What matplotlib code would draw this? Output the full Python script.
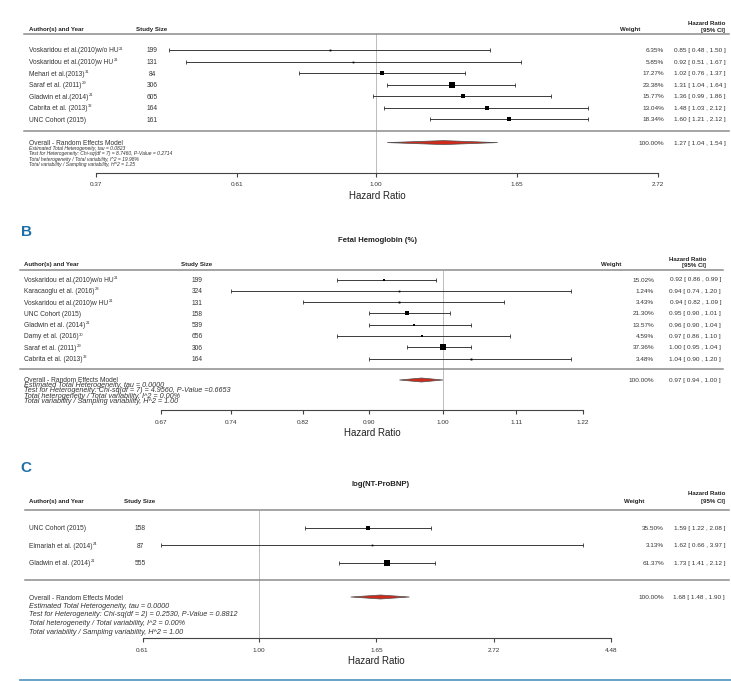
import numpy as np
import matplotlib
matplotlib.use("Agg")
import matplotlib.pyplot as plt
from matplotlib.transforms import blended_transform_factory
from matplotlib.patches import Polygon
from matplotlib.lines import Line2D

plt.rcParams['font.family'] = ['Liberation Sans', 'DejaVu Sans']

W, H = 731, 681

# ---- panel A ----
a_authors = ["Voskaridou et al.(2010)w/o HU", "Voskaridou et al.(2010)w HU", "Mehari et al.(2013)",
             "Saraf et al. (2011)", "Gladwin et al.(2014)", "Cabrita et al. (2013)", "UNC Cohort (2015)"]
a_refs = ["21", "21", "31", "29", "21", "32", ""]
a_size = [199, 131, 84, 306, 605, 164, 161]
a_hr = [0.85, 0.92, 1.02, 1.31, 1.36, 1.48, 1.60]
a_lo = [0.48, 0.51, 0.76, 1.04, 0.99, 1.03, 1.21]
a_hi = [1.50, 1.67, 1.37, 1.64, 1.86, 2.12, 2.12]
a_weight = [6.35, 5.85, 17.27, 23.38, 15.77, 13.04, 18.34]
a_overall = [1.27, 1.04, 1.54]
a_stats = ["Estimated Total Heterogeneity, tau = 0.0823",
           "Test for Heterogeneity: Chi-sq(df = 7) = 8.7460, P-Value = 0.2714",
           "Total heterogeneity / Total variability, I^2 = 19.98%",
           "Total variability / Sampling variability, H^2 = 1.25"]
a_ticks = [0.37, 0.61, 1.00, 1.65, 2.72]

# ---- panel B ----
b_title = "Fetal Hemoglobin (%)"
b_authors = ["Voskaridou et al.(2010)w/o HU", "Karacaoglu et al. (2016)", "Voskaridou et al.(2010)w HU",
             "UNC Cohort (2015)", "Gladwin et al. (2014)", "Damy et al. (2016)", "Saraf et al. (2011)",
             "Cabrita et al. (2013)"]
b_refs = ["21", "28", "21", "", "21", "30", "29", "32"]
b_size = [199, 324, 131, 158, 539, 656, 306, 164]
b_hr = [0.92, 0.94, 0.94, 0.95, 0.96, 0.97, 1.00, 1.04]
b_lo = [0.86, 0.74, 0.82, 0.90, 0.90, 0.86, 0.95, 0.90]
b_hi = [0.99, 1.20, 1.09, 1.01, 1.04, 1.10, 1.04, 1.20]
b_weight = [15.02, 1.24, 3.43, 21.30, 13.57, 4.59, 37.36, 3.48]
b_overall = [0.97, 0.94, 1.00]
b_stats = ["Estimated Total Heterogeneity, tau = 0.0000",
           "Test for Heterogeneity: Chi-sq(df = 7) = 4.9560, P-Value =0.6653",
           "Total heterogeneity / Total variability, I^2 = 0.00%",
           "Total variability / Sampling variability, H^2 = 1.00"]
b_ticks = [0.67, 0.74, 0.82, 0.90, 1.00, 1.11, 1.22]

# ---- panel C ----
c_title = "log(NT-ProBNP)"
c_authors = ["UNC Cohort (2015)", "Elmariah et al. (2014)", "Gladwin et al. (2014)"]
c_refs = ["", "24", "21"]
c_size = [158, 87, 555]
c_hr = [1.59, 1.62, 1.73]
c_lo = [1.22, 0.66, 1.41]
c_hi = [2.08, 3.97, 2.12]
c_weight = [35.50, 3.13, 61.37]
c_overall = [1.68, 1.48, 1.90]
c_stats = ["Estimated Total Heterogeneity, tau = 0.0000",
           "Test for Heterogeneity: Chi-sq(df = 2) = 0.2530, P-Value = 0.8812",
           "Total heterogeneity / Total variability, I^2 = 0.00%",
           "Total variability / Sampling variability, H^2 = 1.00"]
c_ticks = [0.61, 1.00, 1.65, 2.72, 4.48]

# layout in pixels of the 731x681 picture
LAY_A = dict(x0=96, x1=658, axis_y=172.5, top_y=33.5, row0=50, drow=11.55, overall_y=142.6,
             sep_y=130.5, line_x=(24, 729), head_y=29, hr_head_y=(23, 30), hr_head_x=725,
             author_x=29, size_x=152, weight_head_x=630, weight_x=664, hr_x=726,
             stats_y=[148, 153.3, 158.6, 163.9], stats_fs=3.6, label_y=195)
LAY_B = dict(x0=161, x1=583, axis_y=410, top_y=270, row0=279.5, drow=11.3, overall_y=380,
             sep_y=369, line_x=(20, 723), head_y=264, hr_head_y=(259, 265), hr_head_x=706,
             author_x=24, size_x=197, weight_head_x=611, weight_x=654, hr_x=721,
             stats_y=[384.8, 390, 395.2, 400.2], stats_fs=5.2, label_y=432,
             title=(377, 239), letter=("B", 26, 230))
LAY_C = dict(x0=142.5, x1=611, axis_y=638, top_y=510, row0=528, drow=17.4, overall_y=597,
             sep_y=580, line_x=(25, 729), head_y=501.5, hr_head_y=(493, 501.5), hr_head_x=725,
             author_x=29, size_x=140, weight_head_x=634, weight_x=664, hr_x=725,
             stats_y=[605.5, 614, 622.5, 631], stats_fs=5.2, label_y=660,
             title=(381, 483), letter=("C", 26, 467))

fig = plt.figure(figsize=(W / 100, H / 100), dpi=100)
renderer = fig.canvas.get_renderer()


def fx(px):
    return px / W


def fy(py):
    return 1 - py / H


def hline(y, x0, x1, color='#8c8c8c', lw=1.1):
    fig.add_artist(Line2D([fx(x0), fx(x1)], [fy(y), fy(y)], color=color, lw=lw))


def draw_panel(authors, refs, sizes, hr, lo, hi, weights, overall, stats, ticks, L, title=None):
    ax = fig.add_axes([fx(L['x0']), fy(L['axis_y']), fx(L['x1']) - fx(L['x0']),
                       (L['axis_y'] - L['top_y']) / H])
    ax.set_xscale('log')
    ax.set_xlim(ticks[0], ticks[-1])
    ax.set_ylim((L['axis_y'] - L['row0']) / L['drow'], (L['top_y'] - L['row0']) / L['drow'])
    for s in ['top', 'left', 'right']:
        ax.spines[s].set_visible(False)
    ax.spines['bottom'].set_color('#444444')
    ax.spines['bottom'].set_linewidth(0.8)
    ax.set_yticks([])
    ax.set_xticks(ticks)
    ax.set_xticklabels([f"{t:.2f}" for t in ticks])
    ax.xaxis.set_minor_locator(matplotlib.ticker.NullLocator())
    ax.tick_params(axis='x', length=3, width=0.8, color='#444444', labelsize=4.6,
                   labelcolor='#333333', pad=4)
    ax.patch.set_alpha(0)

    ax.axvline(1.0, color='#666666', lw=0.6, ls=(0, (1.2, 1.2)))

    rows = np.arange(len(hr))
    w = np.array(weights)
    side = 3.4 * (0.5 + (w - w.min()) / (w.max() - w.min()))
    for y, est, l, h, s in zip(rows, hr, lo, hi, side):
        ax.plot([l, h], [y, y], color='#3a3a3a', lw=0.7)
        ax.plot([l, h], [y, y], ls='none', marker='|', ms=2.4, mew=0.6, color='#3a3a3a')
        ax.plot([est], [y], ls='none', marker='s', ms=s * 0.72, color='black', mew=0)

    oy = (L['overall_y'] - L['row0']) / L['drow']
    dh = 2.0 / L['drow']
    o_est, o_lo, o_hi = overall
    ax.add_patch(Polygon([(o_lo, oy), (o_est, oy - dh), (o_hi, oy), (o_est, oy + dh)],
                         closed=True, facecolor='#cf2b1c', edgecolor='#4d4d4d', lw=0.5))

    tr = blended_transform_factory(fig.transFigure, ax.transData)
    for y, name, ref, n, wt, e, l, h in zip(rows, authors, refs, sizes, weights, hr, lo, hi):
        t = ax.text(fx(L['author_x']), y, name, transform=tr, fontsize=4.8, color='#333333',
                    ha='left', va='center_baseline')
        if ref:
            bb = t.get_window_extent(renderer)
            fig.text((bb.x1 + 0.6) / fig.bbox.width, (bb.y1 + 0.8) / fig.bbox.height, ref,
                     fontsize=3, color='#333333', ha='left', va='top')
        ax.text(fx(L['size_x']), y, str(n), transform=tr, fontsize=4.8, color='#333333',
                ha='center', va='center_baseline')
        ax.text(fx(L['weight_x']), y, f"{wt:.2f}%", transform=tr, fontsize=4.6,
                color='#333333', ha='right', va='center_baseline')
        ax.text(fx(L['hr_x']), y, f"{e:.2f} [ {l:.2f} , {h:.2f} ]", transform=tr,
                fontsize=4.6, color='#333333', ha='right', va='center_baseline')
    ax.text(fx(L['weight_x']), oy, "100.00%", transform=tr, fontsize=4.6, color='#333333',
            ha='right', va='center_baseline')
    ax.text(fx(L['hr_x']), oy, f"{o_est:.2f} [ {o_lo:.2f} , {o_hi:.2f} ]", transform=tr,
            fontsize=4.6, color='#333333', ha='right', va='center_baseline')

    # overall text block
    fig.text(fx(L['author_x']), fy(L['overall_y']), "Overall - Random Effects Model",
             fontsize=4.8, color='#333333', ha='left', va='center_baseline')
    for yy, line in zip(L['stats_y'], stats):
        fig.text(fx(L['author_x']), fy(yy), line, fontsize=L['stats_fs'], style='italic',
                 color='#333333', ha='left', va='center_baseline')

    # headers and separators
    hline(L['top_y'], *L['line_x'])
    hline(L['sep_y'], *L['line_x'])
    hkw = dict(fontsize=4.4, fontweight='bold', color='#222222', va='center_baseline')
    fig.text(fx(L['author_x']), fy(L['head_y']), "Author(s) and Year", ha='left', **hkw)
    fig.text(fx(L['size_x']), fy(L['head_y']), "Study Size", ha='center', **hkw)
    fig.text(fx(L['weight_head_x']), fy(L['head_y']), "Weight", ha='center', **hkw)
    fig.text(fx(L['hr_head_x']), fy(L['hr_head_y'][0]), "Hazard Ratio", ha='right', **hkw)
    fig.text(fx(L['hr_head_x']), fy(L['hr_head_y'][1]), "[95% CI]", ha='right', **hkw)

    fig.text((fx(L['x0']) + fx(L['x1'])) / 2, fy(L['label_y']), "Hazard Ratio", fontsize=7,
             color='#222222', ha='center', va='center_baseline')

    if title:
        fig.text(fx(L['title'][0]), fy(L['title'][1]), title, fontsize=5.6, fontweight='bold',
                 color='#222222', ha='center', va='center_baseline')
    if 'letter' in L:
        let, lx, ly = L['letter']
        fig.text(fx(lx), fy(ly), let, fontsize=11, fontweight='bold', color='#1f6fa6',
                 ha='center', va='center_baseline')
    return ax


draw_panel(a_authors, a_refs, a_size, a_hr, a_lo, a_hi, a_weight, a_overall, a_stats, a_ticks, LAY_A)
draw_panel(b_authors, b_refs, b_size, b_hr, b_lo, b_hi, b_weight, b_overall, b_stats, b_ticks, LAY_B,
           title=b_title)
draw_panel(c_authors, c_refs, c_size, c_hr, c_lo, c_hi, c_weight, c_overall, c_stats, c_ticks, LAY_C,
           title=c_title)

# blue rule at the bottom of the figure
hline(680, 20, 731, color='#5b9cc4', lw=1.3)

fig.savefig("out.png", dpi=100)
